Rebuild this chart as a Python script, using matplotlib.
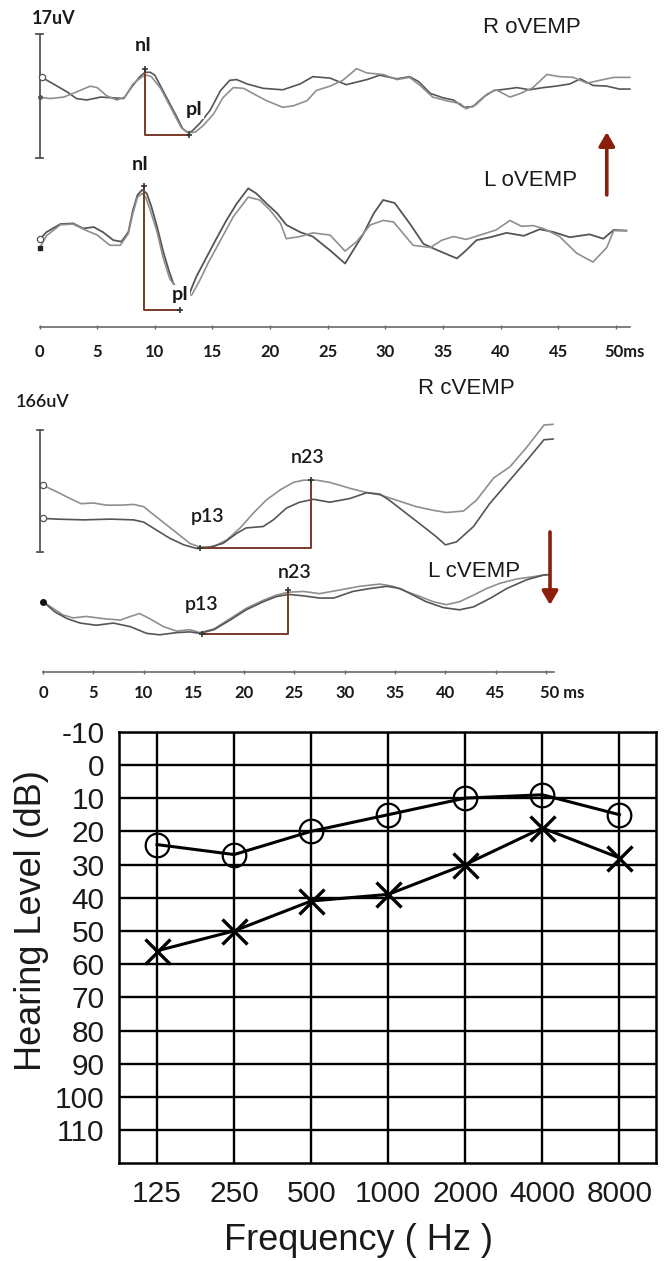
import matplotlib
matplotlib.use("Agg")
import matplotlib.pyplot as plt
from matplotlib import font_manager

# ---------------------------------------------------------------------------
# oVEMP recordings: latency (ms) and amplitude (uV), two sweeps per side
# ---------------------------------------------------------------------------
r_ovemp_1_t = [0.2, 1.2, 2.4, 3.2, 4.1, 5.3, 6.4, 7.3, 8.0, 8.7, 9.15, 9.6, 10.0, 10.7, 11.3,
               11.9, 12.4, 12.8, 13.2, 13.9, 14.8, 15.7, 16.5, 17.1, 18.0, 19.4, 21.1, 22.6, 23.7,
               25.2, 26.6, 28.4, 29.5, 31.0, 32.1, 32.9, 33.9, 35.0, 35.9, 36.8, 37.6, 38.5, 39.4,
               40.5, 41.4, 42.5, 43.7, 44.8, 46.0, 46.9, 48.0, 49.2, 50.3, 51.2]
r_ovemp_1_uv = [2.6, 1.7, 0.6, -0.3, -0.5, -0.1, -0.2, -0.3, 1.3, 2.7, 3.3, 3.3, 2.9, 0.8, -1.0,
                -2.8, -4.4, -4.9, -4.8, -3.7, -1.9, 0.8, 2.2, 2.3, 1.7, 1.1, 0.9, 1.7, 2.7,
                2.5, 1.6, 2.3, 2.9, 2.4, 2.7, 2.0, 0.4, -0.2, -0.5, -1.5, -1.4, -0.1, 0.8,
                1.0, 1.2, 0.9, 1.2, 1.4, 1.7, 2.4, 1.5, 1.4, 1.0, 1.0]
r_ovemp_2_t = [0.0, 0.9, 2.1, 3.2, 4.4, 5.0, 5.8, 6.7, 7.4, 8.1, 8.9, 9.3, 9.7, 10.5, 11.2,
               11.8, 12.3, 12.9, 13.5, 14.2, 15.1, 15.9, 16.8, 17.7, 18.5, 19.7, 21.1, 22.0, 23.2,
               24.0, 25.2, 26.3, 27.5, 28.4, 29.8, 31.0, 32.1, 33.0, 34.1, 35.3, 36.5, 37.0, 37.9,
               38.8, 39.6, 40.8, 41.7, 42.8, 44.0, 45.1, 46.3, 47.5, 48.6, 49.8, 51.2]
r_ovemp_2_uv = [-0.1, -0.3, -0.1, 0.6, 1.4, 1.2, 0.1, -0.5, -0.1, 1.7, 2.7, 2.9, 2.7, 1.1, -1.0,
                -2.8, -4.3, -5.0, -4.9, -4.0, -2.4, -0.2, 1.2, 1.1, 0.4, -0.6, -1.5, -1.3, -0.6,
                0.8, 1.4, 2.2, 3.8, 3.2, 3.0, 2.3, 2.6, 1.5, -0.1, -0.6, -1.0, -1.7, -1.1,
                0.3, 0.9, -0.1, 0.4, 1.2, 3.0, 2.7, 2.6, 1.8, 2.2, 2.6, 2.6]
l_ovemp_1_t = [0.0, 0.6, 1.8, 2.9, 3.8, 4.7, 5.5, 6.4, 7.1, 7.7, 8.1, 8.5, 8.9, 9.3, 9.7,
               10.2, 10.7, 11.2, 11.6, 12.3, 13.0, 13.6, 14.2, 15.1, 16.2, 17.1, 18.1, 18.8, 19.7,
               20.6, 21.4, 22.6, 23.7, 25.2, 26.5, 28.1, 29.0, 29.8, 30.8, 32.1, 33.3, 34.4, 36.2,
               37.0, 37.9, 39.1, 40.5, 42.0, 43.4, 44.6, 46.0, 47.7, 48.9, 49.8, 50.9]
l_ovemp_1_uv = [0.1, 1.1, 2.2, 2.3, 1.6, 1.8, 1.1, 0.0, -0.2, 1.1, 4.1, 6.2, 6.9, 6.4, 4.6,
                1.8, -1.4, -4.1, -5.9, -7.8, -7.3, -5.0, -3.2, -0.5, 2.7, 5.0, 7.1, 6.4, 5.0,
                3.7, 2.1, 1.1, 0.5, -1.4, -3.2, 0.9, 3.7, 5.5, 5.1, 2.3, -0.5, -1.3, -2.5,
                -1.4, 0.0, 0.4, 1.0, 0.6, 1.5, 1.1, 0.4, 0.8, 0.2, 1.4, 1.3]
l_ovemp_2_t = [0.0, 0.6, 1.8, 2.9, 4.1, 5.0, 6.1, 7.0, 7.7, 8.1, 8.5, 8.9, 9.2, 9.6, 10.2,
               10.7, 11.3, 12.4, 13.2, 13.9, 14.6, 15.7, 16.8, 18.1, 19.1, 20.0, 20.9, 21.4, 22.6,
               23.7, 25.2, 26.5, 27.5, 28.7, 29.8, 30.7, 32.4, 33.9, 34.9, 35.9, 37.0, 38.2, 39.6,
               40.8, 41.8, 42.8, 43.7, 45.1, 46.6, 48.0, 49.2, 49.8, 50.9]
l_ovemp_2_uv = [-1.1, 0.6, 2.1, 2.2, 1.3, 0.7, -0.7, -0.7, 0.9, 3.7, 5.9, 6.4, 5.9, 4.1, 1.1,
                -2.3, -5.3, -7.6, -7.5, -5.5, -3.2, 0.0, 3.2, 5.9, 5.5, 4.1, 2.3, 0.2, 0.5,
                1.0, 0.7, -1.5, -0.2, 2.1, 2.7, 2.5, -0.7, -1.0, 0.0, 0.5, 0.1, 0.7, 1.4,
                2.7, 1.9, 2.0, 1.6, 0.5, -1.8, -3.0, -1.0, 1.3, 1.3]

# nI / pI peaks (latency ms, amplitude uV)
r_ovemp_ni = (9.15, 3.8)
r_ovemp_pi = (13.0, -5.3)
l_ovemp_ni = (9.1, 7.4)
l_ovemp_pi = (12.2, -9.5)

# ---------------------------------------------------------------------------
# cVEMP recordings
# ---------------------------------------------------------------------------
r_cvemp_1_t = [0.0, 1.4, 2.7, 3.8, 5.0, 6.3, 7.7, 9.0, 10.0, 11.0, 12.3, 13.6, 14.6, 15.6, 16.9,
               18.3, 19.6, 20.9, 22.2, 23.6, 24.9, 25.9, 27.2, 28.5, 30.5, 32.2, 33.5, 35.1, 37.1,
               38.8, 40.1, 41.8, 43.1, 44.8, 46.4, 48.1, 49.8, 50.7]
r_cvemp_1_uv = [20, 11, 2, -5, -4, -7, -7, -6, -9, -20, -34, -48, -59, -64, -64,
                -54, -38, -18, 0, 14, 24, 27, 27, 24, 16, 10, 7, 0, -9,
                -14, -17, -15, 0, 30, 45, 72, 102, 103]
r_cvemp_2_t = [0.0, 1.4, 4.0, 6.7, 9.0, 10.0, 11.3, 12.6, 14.0, 15.3, 16.6, 17.9, 19.3, 20.2, 21.9,
               22.9, 24.2, 25.5, 26.9, 28.5, 30.5, 32.2, 33.5, 34.4, 36.1, 37.8, 39.1, 40.0, 41.1,
               42.8, 44.4, 46.4, 48.1, 49.8, 50.7]
r_cvemp_2_uv = [-25, -26, -27, -26, -27, -30, -41, -52, -61, -66, -64, -59, -45, -38, -36,
                -27, -11, -3, 1, -3, 2, 10, 8, 0, -18, -36, -50, -61, -57,
                -36, -5, 27, 54, 82, 83]
l_cvemp_1_t = [0.0, 1.0, 2.0, 3.0, 4.3, 6.0, 7.7, 8.7, 9.6, 10.6, 12.0, 13.3, 14.6, 15.6, 17.0,
               18.6, 20.2, 21.9, 23.2, 24.4, 25.9, 27.5, 29.5, 31.5, 33.5, 34.8, 36.1, 37.5, 38.8,
               40.1, 41.4, 42.8, 44.1, 45.4, 47.1, 48.7, 50.0]
l_cvemp_1_uv = [-16, -25, -34, -38, -36, -39, -41, -36, -32, -39, -50, -56, -54, -58, -53,
                -39, -25, -14, -7, -3, -2, -5, 0, 5, 8, 5, -2, -9, -16,
                -20, -16, -7, 2, 9, 15, 18, 21]
l_cvemp_2_t = [0.2, 1.2, 2.4, 3.7, 5.3, 7.0, 8.7, 10.3, 11.6, 13.3, 14.6, 15.6, 17.0, 18.6, 20.2,
               21.9, 23.2, 24.4, 25.9, 27.5, 28.9, 30.8, 32.5, 34.2, 35.5, 36.8, 38.1, 39.8, 41.4,
               42.8, 44.5, 46.1, 48.1, 49.7, 50.4]
l_cvemp_2_uv = [-18, -30, -39, -45, -48, -45, -50, -59, -61, -58, -57, -59, -54, -41, -27,
                -16, -9, -6, -8, -11, -11, -2, 2, 5, 2, -7, -16, -24, -27,
                -23, -11, 2, 14, 20, 21]

# p13 / n23 peaks (latency ms, amplitude uV)
r_cvemp_p13 = (15.6, -65)
r_cvemp_n23 = (26.6, 27.5)
l_cvemp_p13 = (15.8, -60)
l_cvemp_n23 = (24.4, 0)

# ---------------------------------------------------------------------------
# Pure-tone audiogram
# ---------------------------------------------------------------------------
frequencies = ["125", "250", "500", "1000", "2000", "4000", "8000"]
right_ear_db = [24, 27, 20, 15, 10, 9, 15]
left_ear_db = [56, 50, 41, 39, 30, 19, 28]
db_ticks = list(range(-10, 111, 10))
ms_ticks = list(range(0, 50, 5))

# ---------------------------------------------------------------------------
W, H = 665, 1261
fig = plt.figure(figsize=(W / 100, H / 100), dpi=100)

DARK = "#555555"
LIGHT = "#8f8f8f"
BROWN = "#7a3a28"
ARROW = "#8a1f0c"
INK = "#1a1a1a"
LABEL_FONT = ["Lato", "DejaVu Sans"]
SANS = ["Liberation Sans", "DejaVu Sans"]

# audiogram numbers use a narrow face when one is installed
try:
    font_manager.findfont(font_manager.FontProperties(family="Liberation Sans Narrow"),
                          fallback_to_default=False)
    TICK_FONT, TICK_SIZE = ["Liberation Sans Narrow", "DejaVu Sans"], 24
except ValueError:
    TICK_FONT, TICK_SIZE = SANS, 21.5


def axes_px(x0, y0, x1, y1):
    return fig.add_axes([x0 / W, 1 - y1 / H, (x1 - x0) / W, (y1 - y0) / H])


def shifted(values, off):
    return [v + off for v in values]


def draw_bracket(ax, peak_a, peak_b, off, vertical_at_a=True):
    xa, ya = peak_a
    xb, yb = peak_b
    if vertical_at_a:
        ax.plot([xa, xa, xb], [ya + off, yb + off, yb + off], color=BROWN, lw=1.4, zorder=4)
    else:
        ax.plot([xa, xb, xb], [ya + off, ya + off, yb + off], color=BROWN, lw=1.4, zorder=4)


def time_axis(ax, y, t_end, label_y, last_label):
    ax.plot([0, t_end], [y, y], color="#6a6a6a", lw=1.2)
    ax.plot(ms_ticks + [50], [y] * (len(ms_ticks) + 1), ls="none", marker="|",
            ms=3, color="#6a6a6a")
    for t in ms_ticks:
        ax.text(t, label_y, str(t), ha="center", va="center", fontsize=12,
                weight="bold", family=LABEL_FONT, color=INK)
    ax.text(last_label[0], label_y, last_label[1], ha="left", va="center",
            fontsize=12, weight="bold", family=LABEL_FONT, color=INK)


def scale_bar(ax, x, y0, y1, cap):
    ax.plot([x, x], [y0, y1], color="#555555", lw=1.3)
    for yy in (y0, y1):
        ax.plot([x - cap, x + cap], [yy, yy], color="#555555", lw=1.3)


white_box = dict(boxstyle="square,pad=0.08", fc="white", ec="none")

# ---------------------------- oVEMP panel ---------------------------------
axA = axes_px(0, 0, W, 365)
axA.set_xlim(-3.43, 54.25)
axA.set_ylim(-17.1, 32.9)
axA.axis("off")
R_OFF = 19.7

scale_bar(axA, 0, 11.2, 28.2, 0.3)
axA.text(1.26, 30.3, "17uV", ha="center", va="center", fontsize=13, weight="bold",
         family=LABEL_FONT, color=INK)

axA.plot(r_ovemp_1_t, shifted(r_ovemp_1_uv, R_OFF), color=DARK, lw=1.2)
axA.plot(r_ovemp_2_t, shifted(r_ovemp_2_uv, R_OFF), color=LIGHT, lw=1.2)
axA.plot(l_ovemp_1_t, l_ovemp_1_uv, color=DARK, lw=1.3)
axA.plot(l_ovemp_2_t, l_ovemp_2_uv, color=LIGHT, lw=1.2)

axA.plot(r_ovemp_1_t[0], r_ovemp_1_uv[0] + R_OFF, "o", ms=4.5, mfc="white", mec=DARK, mew=0.9)
axA.plot(r_ovemp_2_t[0], r_ovemp_2_uv[0] + R_OFF, "o", ms=2.5, color=DARK)
axA.plot(l_ovemp_1_t[0], l_ovemp_1_uv[0], "o", ms=4.5, mfc="white", mec=DARK, mew=0.9)
axA.plot(l_ovemp_2_t[0], l_ovemp_2_uv[0], "s", ms=3, color="#222222")

draw_bracket(axA, r_ovemp_ni, r_ovemp_pi, R_OFF)
draw_bracket(axA, l_ovemp_ni, l_ovemp_pi, 0)
for (t, a), off in ((r_ovemp_ni, R_OFF), (r_ovemp_pi, R_OFF), (l_ovemp_ni, 0), (l_ovemp_pi, 0)):
    axA.plot(t, a + off, marker="+", ms=5, mew=1.2, color="#333333", zorder=5)

axA.text(8.98, 26.6, "nI", ha="center", va="center", fontsize=14, weight="bold",
         family=LABEL_FONT, color=INK)
axA.text(13.4, 17.95, "pI", ha="center", va="center", fontsize=14, weight="bold",
         family=LABEL_FONT, color=INK, bbox=white_box, zorder=6)
axA.text(8.72, 10.3, "nI", ha="center", va="center", fontsize=14, weight="bold",
         family=LABEL_FONT, color=INK)
axA.text(12.19, -7.5, "pI", ha="center", va="center", fontsize=14, weight="bold",
         family=LABEL_FONT, color=INK, bbox=white_box, zorder=6)

axA.text(42.7, 29.2, "R oVEMP", ha="center", va="center", fontsize=16, family=SANS, color=INK)
axA.text(42.6, 8.2, "L oVEMP", ha="center", va="center", fontsize=16, family=SANS, color=INK)
axA.annotate("", xy=(49.2, 14.8), xytext=(49.2, 6.2),
             arrowprops=dict(arrowstyle="-|>,head_length=0.55,head_width=0.32",
                             color=ARROW, lw=2.6, mutation_scale=15, shrinkA=0, shrinkB=0))

time_axis(axA, -11.9, 51.2, -15.3, (49.0, "50ms"))

# ---------------------------- cVEMP panel ---------------------------------
axB = axes_px(0, 365, W, 705)
axB.set_xlim(-4.27, 61.83)
axB.set_ylim(-156.5, 306.1)
axB.axis("off")
RC_OFF = 122.4

scale_bar(axB, -0.3, 51.7, 217.7, 0.3)
axB.text(0.0, 255.8, "166uV", ha="center", va="center", fontsize=13, weight="semibold",
         family=LABEL_FONT, color=INK)

axB.plot(r_cvemp_1_t, shifted(r_cvemp_1_uv, RC_OFF), color=LIGHT, lw=1.2)
axB.plot(r_cvemp_2_t, shifted(r_cvemp_2_uv, RC_OFF), color=DARK, lw=1.2)
axB.plot(l_cvemp_1_t, l_cvemp_1_uv, color=LIGHT, lw=1.2)
axB.plot(l_cvemp_2_t, l_cvemp_2_uv, color=DARK, lw=1.2)

axB.plot(r_cvemp_1_t[0], r_cvemp_1_uv[0] + RC_OFF, "o", ms=4.5, mfc="white", mec=DARK, mew=0.9)
axB.plot(r_cvemp_2_t[0], r_cvemp_2_uv[0] + RC_OFF, "o", ms=4.5, mfc="white", mec=DARK, mew=0.9)
axB.plot(l_cvemp_1_t[0], l_cvemp_1_uv[0], "o", ms=4, color="#111111")

draw_bracket(axB, r_cvemp_p13, r_cvemp_n23, RC_OFF, vertical_at_a=False)
draw_bracket(axB, l_cvemp_p13, l_cvemp_n23, 0, vertical_at_a=False)
for (t, a), off in ((r_cvemp_p13, RC_OFF), (r_cvemp_n23, RC_OFF), (l_cvemp_p13, 0), (l_cvemp_n23, 0)):
    axB.plot(t, a + off, marker="+", ms=5, mew=1.2, color="#333333", zorder=5)

axB.text(16.4, 99.3, "p13", ha="center", va="center", fontsize=14, weight="semibold",
         family=LABEL_FONT, color=INK)
axB.text(26.3, 179.6, "n23", ha="center", va="center", fontsize=14, weight="semibold",
         family=LABEL_FONT, color=INK)
axB.text(15.8, -20.4, "p13", ha="center", va="center", fontsize=14, weight="semibold",
         family=LABEL_FONT, color=INK)
axB.text(25.05, 23.1, "n23", ha="center", va="center", fontsize=14, weight="semibold",
         family=LABEL_FONT, color=INK)

axB.text(42.1, 274.8, "R cVEMP", ha="center", va="center", fontsize=16, family=SANS, color=INK)
axB.text(42.9, 24.5, "L cVEMP", ha="center", va="center", fontsize=16, family=SANS, color=INK)
axB.annotate("", xy=(50.4, -20.4), xytext=(50.4, 78.9),
             arrowprops=dict(arrowstyle="-|>,head_length=0.55,head_width=0.32",
                             color=ARROW, lw=2.6, mutation_scale=15, shrinkA=0, shrinkB=0))

time_axis(axB, -111.6, 50.8, -140.1, (49.4, "50 ms"))

# ---------------------------- audiogram -----------------------------------
axC = axes_px(118.5, 731.7, 656.4, 1163.3)
x = list(range(len(frequencies)))
axC.set_xlim(-0.5, 6.48)
axC.set_ylim(120, -10)
for d in db_ticks:
    axC.axhline(d, color="black", lw=1.7, zorder=1)
for xi in x:
    axC.axvline(xi, color="black", lw=1.7, zorder=1)
for sp in axC.spines.values():
    sp.set_linewidth(1.8)
axC.set_xticks(x)
axC.set_xticklabels(frequencies, family=TICK_FONT, fontsize=TICK_SIZE, color=INK)
axC.set_yticks(db_ticks)
axC.set_yticklabels([str(d) for d in db_ticks], family=TICK_FONT, fontsize=TICK_SIZE, color=INK)
axC.tick_params(axis="x", length=0, pad=12)
axC.tick_params(axis="y", length=0, pad=10)

axC.plot(x, right_ear_db, color="black", lw=2.2, marker="o", ms=17, mfc="none",
         mec="black", mew=1.6, zorder=3, clip_on=False)
axC.plot(x, left_ear_db, color="black", lw=2.2, marker="x", ms=18, mew=2.4,
         zorder=3, clip_on=False)

fig.text(32 / W, 1 - 921 / H, "Hearing Level (dB)", rotation=90, ha="center", va="center",
         fontsize=26, family=SANS, color=INK)
fig.text(359 / W, 1 - 1240 / H, "Frequency ( Hz )", ha="center", va="center",
         fontsize=26, family=SANS, color=INK)

fig.savefig("out.png", dpi=100)
